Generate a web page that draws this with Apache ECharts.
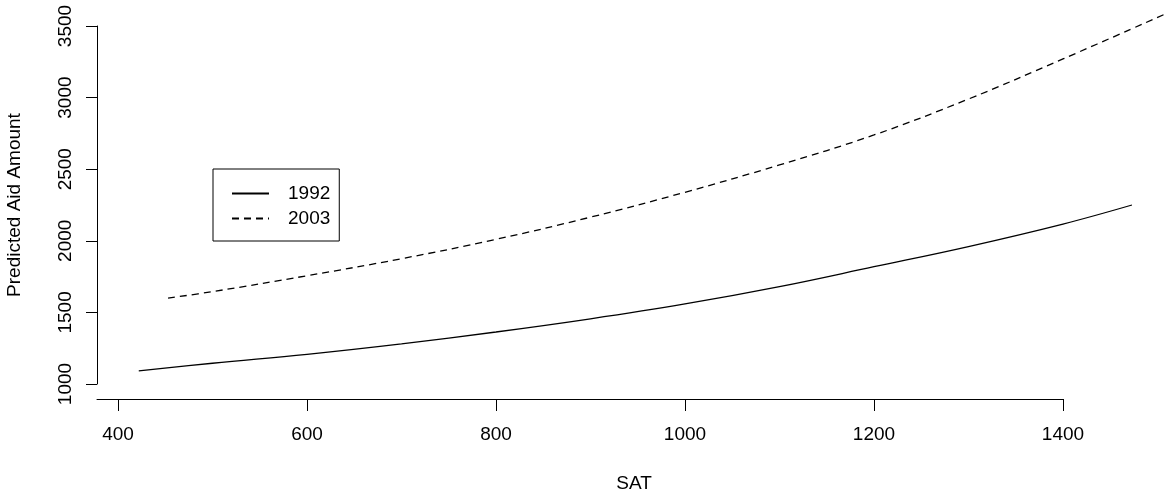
<!DOCTYPE html>
<html>
<head>
<meta charset="utf-8">
<script src="https://cdn.jsdelivr.net/npm/echarts@6/dist/echarts.min.js"></script>
<style>
html,body{margin:0;padding:0;background:#fff;}
#chart{width:1167px;height:496px;}
</style>
</head>
<body>
<div id="chart"></div>
<script>
// Data
var sat1992 = [422, 500, 600, 700, 800, 900, 1000, 1100, 1200, 1300, 1400, 1473];
var aid1992 = [1091, 1145, 1207, 1280, 1363, 1455, 1559, 1680, 1819, 1960, 2117, 2250];
var sat2003 = [453, 500, 600, 700, 800, 900, 1000, 1100, 1200, 1300, 1400, 1510];
var aid2003 = [1600, 1645, 1756, 1875, 2010, 2165, 2339, 2530, 2739, 2990, 3270, 3589];
var xTicks = [400, 600, 800, 1000, 1200, 1400];
var yTicks = [1000, 1500, 2000, 2500, 3000, 3500];
var seriesNames = ['1992', '2003'];
var xTitle = 'SAT';
var yTitle = 'Predicted Aid Amount';

function pairs(xs, ys) {
  return xs.map(function (x, i) { return [x, ys[i]]; });
}
function plain(v) { return String(v); }

var FONT = 'Liberation Sans, Arial, Helvetica, sans-serif';
// scale: x 0.945 px per unit, y 0.1432 px per unit
var X_MIN = 377.8;
var X_PX = 0.945;
var Y_PX = 358 / 2500;

var chart = echarts.init(document.getElementById('chart'), null, {renderer: 'canvas'});
chart.setOption({
  animation: false,
  backgroundColor: '#ffffff',
  grid: [
    // plotting grid, extends beyond visible axes so curves are not cut
    {left: 97, right: 0, top: 0, bottom: 112, containLabel: false, outerBoundsMode: 'none'},
    // visible axes grid
    {left: 97, right: 104, top: 26, bottom: 112, containLabel: false, outerBoundsMode: 'none'}
  ],
  xAxis: [
    {
      type: 'value', gridIndex: 0,
      min: X_MIN, max: X_MIN + (1167 - 97) / X_PX,
      show: false
    },
    {
      type: 'value', gridIndex: 1,
      min: X_MIN, max: 1400,
      offset: 15,
      splitLine: {show: false},
      axisLine: {show: true, lineStyle: {color: '#000', width: 1}},
      axisTick: {show: true, length: 12, lineStyle: {color: '#000', width: 1}, customValues: xTicks},
      axisLabel: {show: true, color: '#000', fontSize: 19, fontFamily: FONT, margin: 26, customValues: xTicks, formatter: plain}
    }
  ],
  yAxis: [
    {
      type: 'value', gridIndex: 0,
      min: 1000, max: 1000 + 384 / Y_PX,
      show: false
    },
    {
      type: 'value', gridIndex: 1,
      min: 1000, max: 3500,
      splitLine: {show: false},
      axisLine: {show: true, lineStyle: {color: '#000', width: 1}},
      axisTick: {show: true, length: 11, lineStyle: {color: '#000', width: 1}, customValues: yTicks},
      axisLabel: {show: true, color: '#000', fontSize: 19, fontFamily: FONT, margin: 22, rotate: 90, customValues: yTicks, formatter: plain}
    }
  ],
  legend: {
    orient: 'vertical',
    left: 213,
    top: 169,
    padding: [15, 9, 13, 18],
    itemGap: 6,
    itemWidth: 37,
    itemHeight: 20,
    borderColor: '#000',
    borderWidth: 1,
    borderRadius: 0,
    itemStyle: {opacity: 0, borderWidth: 0},
    textStyle: {color: '#000', fontSize: 19, fontFamily: FONT, padding: [0, 0, 0, 14]},
    data: seriesNames
  },
  series: [
    {
      name: seriesNames[0],
      type: 'line',
      xAxisIndex: 0, yAxisIndex: 0,
      data: pairs(sat1992, aid1992),
      smooth: 0.4,
      clip: false,
      showSymbol: false,
      symbol: 'none',
      lineStyle: {color: '#000', width: 1.3, type: 'solid'},
      itemStyle: {color: '#000'}
    },
    {
      name: seriesNames[1],
      type: 'line',
      xAxisIndex: 0, yAxisIndex: 0,
      data: pairs(sat2003, aid2003),
      smooth: 0.4,
      clip: false,
      showSymbol: false,
      symbol: 'none',
      lineStyle: {color: '#000', width: 1.3, type: [7, 5]},
      itemStyle: {color: '#000'}
    }
  ],
  graphic: [
    {
      type: 'text',
      x: 634, y: 484,
      style: {text: xTitle, fill: '#000', font: '19px ' + FONT, textAlign: 'center', textVerticalAlign: 'middle'}
    },
    {
      type: 'text',
      x: 15, y: 205,
      rotation: Math.PI / 2,
      style: {text: yTitle, fill: '#000', font: '19px ' + FONT, textAlign: 'center', textVerticalAlign: 'middle'}
    }
  ]
});
</script>
</body>
</html>
